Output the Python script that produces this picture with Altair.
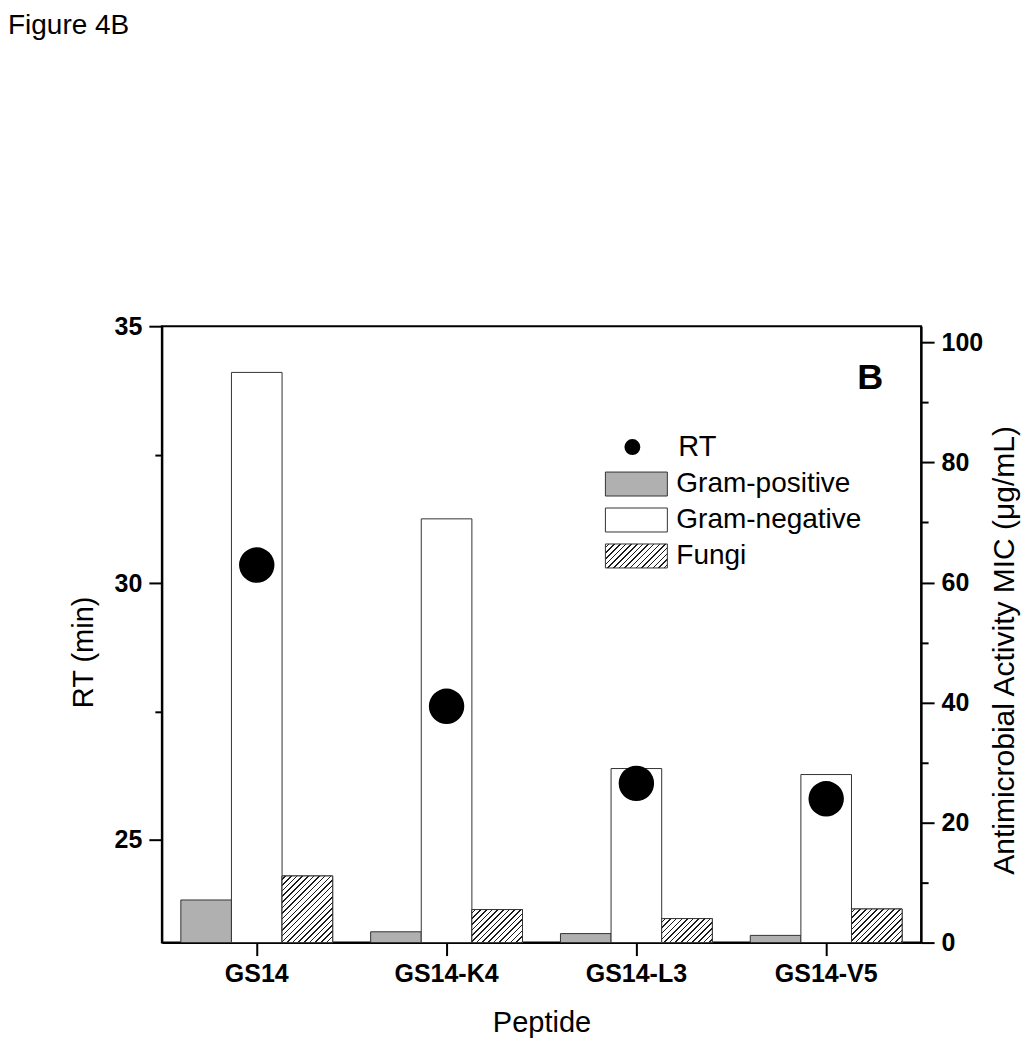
import math
import altair as alt
import pandas as pd

# ---------------- data ----------------
peptides = ["GS14", "GS14-K4", "GS14-L3", "GS14-V5"]
rt_min = [30.35, 27.6, 26.1, 25.8]
gram_positive = [7.1, 1.8, 1.5, 1.2]
gram_negative = [95.0, 70.6, 29.0, 28.0]
fungi = [11.1, 5.5, 4.0, 5.6]
series_names = ["Gram-positive", "Gram-negative", "Fungi"]
series_fills = ["#b0b0b0", "#ffffff", "#ffffff"]

rt_major = [25, 30, 35]
rt_minor = [27.5, 32.5]
mic_major = [0, 20, 40, 60, 80, 100]
mic_minor = [10, 30, 50, 70, 90]

# ---------------- layout / style ----------------
W, H = 760, 617
RT_DOMAIN = [23, 35]
MIC_DOMAIN = [0, 102.7]
FONT = "Liberation Sans"
PAD_INNER, PAD_OUTER = 0.2, 0.1
EDGE = "#333333"

bars_df = pd.DataFrame({
    "peptide": peptides * 3,
    "series": [s for s in series_names for _ in peptides],
    "mic": gram_positive + gram_negative + fungi,
})
rt_df = pd.DataFrame({"peptide": peptides, "rt": rt_min})

step = W / (len(peptides) - PAD_INNER + 2 * PAD_OUTER)
bar_w = step * (1 - PAD_INNER) / len(series_names)


def hatch(w, h, spacing=4.0, line=1.1, ink="#1a1a1a", paper="#ffffff"):
    """Diagonal '/' hatch as a striped linear gradient for a w x h box."""
    k = h / w
    a = (1 + k) / (1 + k * k)
    period = spacing * math.sqrt(2) / (w + h)
    thick = line * math.sqrt(2) / (w + h)
    stops = [{"offset": 0, "color": paper}]
    t = period * 0.5
    while t + thick < 1:
        o1, o2 = round(t, 5), round(t + thick, 5)
        stops += [
            {"offset": o1, "color": paper},
            {"offset": o1, "color": ink},
            {"offset": o2, "color": ink},
            {"offset": o2, "color": paper},
        ]
        t += period
    stops.append({"offset": 1, "color": paper})
    return {"gradient": "linear", "x1": 0, "y1": 0, "x2": a, "y2": a * k, "stops": stops}


def cond(test, big, small):
    return {"condition": {"test": test, "value": big}, "value": small}


x_axis = alt.Axis(title="Peptide", labelAngle=0, tickSize=13, bandPosition=0.5,
                  labelPadding=6, titlePadding=22, grid=False)
left_axis = alt.Axis(
    title="RT (min)", orient="left", values=sorted(rt_major + rt_minor),
    labelExpr="datum.value % 5 === 0 ? datum.label : ''",
    tickSize=cond("datum.value % 5 === 0", 13, 7),
    labelPadding=7, titlePadding=16, titleY=326, grid=False)
right_axis = alt.Axis(
    title="Antimicrobial Activity MIC (μg/mL)", orient="right",
    values=sorted(mic_major + mic_minor),
    labelExpr="datum.value % 20 === 0 ? datum.label : ''",
    tickSize=cond("datum.value % 20 === 0", 13, 7),
    labelPadding=7, titleAngle=270, titleBaseline="middle", titleAlign="center",
    titleX=83, titleY=324, titleFontSize=30, grid=False)

x_scale = alt.Scale(paddingInner=PAD_INNER, paddingOuter=PAD_OUTER)
off_scale = alt.Scale(domain=series_names)
mic_scale = alt.Scale(domain=MIC_DOMAIN, nice=False, zero=True)
rt_scale = alt.Scale(domain=RT_DOMAIN, nice=False, zero=False)

x_enc = alt.X("peptide:N", sort=peptides, scale=x_scale, axis=x_axis)
off_enc = alt.XOffset("series:N", sort=series_names, scale=off_scale)
mic_enc = alt.Y("mic:Q", scale=mic_scale, axis=right_axis)

main_bars = alt.Chart(bars_df).mark_bar(stroke=EDGE, strokeWidth=1).encode(
    x=x_enc, xOffset=off_enc, y=mic_enc,
    fill=alt.Fill("series:N", scale=alt.Scale(domain=series_names, range=series_fills),
                  legend=None),
)

hatch_layers = []
for p, v in zip(peptides, fungi):
    hatch_layers.append(
        alt.Chart(bars_df)
        .transform_filter((alt.datum.series == "Fungi") & (alt.datum.peptide == p))
        .mark_bar(fill=hatch(bar_w, v / MIC_DOMAIN[1] * H), stroke=EDGE, strokeWidth=1)
        .encode(x=x_enc, xOffset=off_enc, y=mic_enc)
    )

bars = alt.layer(main_bars, *hatch_layers)

points = alt.Chart(rt_df).mark_circle(size=1257, color="black", opacity=1).encode(
    x=x_enc,
    y=alt.Y("rt:Q", scale=rt_scale, axis=left_axis),
)

# ---------------- legend (inside plot) ----------------
legend_df = pd.DataFrame({"label": ["RT"] + series_names})
box_x0, box_x1 = 444, 506
box_tops = [146, 182, 218]
box_h = 24
legend_layers = [
    alt.Chart(legend_df).transform_filter(alt.datum.label == "RT")
    .mark_circle(size=254, color="black", opacity=1)
    .encode(x=alt.value(471), y=alt.value(121)),
    alt.Chart(legend_df).transform_filter(alt.datum.label == "RT")
    .mark_text(align="left", baseline="middle", font=FONT, fontSize=29, color="black")
    .encode(x=alt.value(517), y=alt.value(121), text="label:N"),
]
for name, fill, top in zip(series_names, series_fills, box_tops):
    f = hatch(box_x1 - box_x0, box_h) if name == "Fungi" else fill
    legend_layers.append(
        alt.Chart(legend_df).transform_filter(alt.datum.label == name)
        .mark_rect(fill=f, stroke=EDGE, strokeWidth=1)
        .encode(x=alt.value(box_x0), x2=alt.value(box_x1),
                y=alt.value(top), y2=alt.value(top + box_h))
    )
    legend_layers.append(
        alt.Chart(legend_df).transform_filter(alt.datum.label == name)
        .mark_text(align="left", baseline="middle", font=FONT, fontSize=28, color="black")
        .encode(x=alt.value(515), y=alt.value(top + box_h / 2), text="label:N")
    )

panel_df = pd.DataFrame({"label": ["B"]})
panel_letter = alt.Chart(panel_df).mark_text(
    align="center", baseline="middle", font=FONT, fontSize=36, fontWeight="bold", color="black"
).encode(x=alt.value(709), y=alt.value(52), text="label:N")

fig_df = pd.DataFrame({"label": ["Figure 4B"]})
fig_title = alt.Chart(fig_df).mark_text(
    align="left", baseline="alphabetic", font=FONT, fontSize=28, color="black"
).encode(x=alt.value(-154), y=alt.value(-292), text="label:N")

chart = (
    alt.layer(bars, points, *legend_layers, panel_letter, fig_title)
    .resolve_scale(y="independent")
    .properties(
        width=W, height=H,
        autosize=alt.AutoSizeParams(type="none"),
        padding={"left": 154, "top": 318, "right": 100, "bottom": 95},
        background="white",
    )
    .configure_view(stroke="black", strokeWidth=2)
    .configure_axis(
        domainColor="black", domainWidth=2, tickColor="black", tickWidth=2,
        labelColor="black", labelFont=FONT, labelFontSize=25, labelFontWeight="bold",
        titleColor="black", titleFont=FONT, titleFontSize=29, titleFontWeight="normal",
    )
)

chart.save("out.html", embed_options={"renderer": "svg", "actions": False})
